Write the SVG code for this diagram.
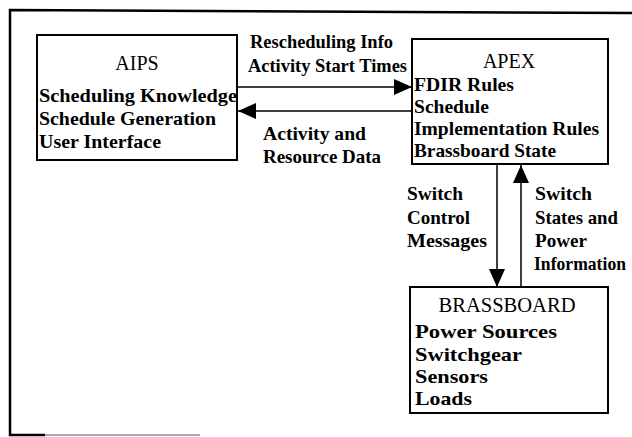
<svg xmlns="http://www.w3.org/2000/svg" width="632" height="437" viewBox="0 0 632 437">
<style>
.box{fill:#fff;stroke:#000;stroke-width:2}
.frame{fill:none;stroke:#000;stroke-width:2.5}
.title{font-family:"Liberation Serif","Times New Roman",serif;font-size:20px;fill:#000;text-anchor:middle}
.t{font-family:"Liberation Serif","Times New Roman",serif;font-size:19px;font-weight:bold;fill:#000}
.conn{stroke:#000;stroke-width:1.5;fill:none}
</style>
<defs>
<marker id="ah" markerUnits="userSpaceOnUse" markerWidth="20" markerHeight="18" refX="18" refY="8" orient="auto">
<path d="M0,0 L18,8 L0,16 Z" fill="#000"/>
</marker>
</defs>
<rect width="632" height="437" fill="#fff"/>
<g id="frame">
<path class="frame" d="M632,13 L10,10 L10,435 L45,435"/>
<path d="M45,435 L200,435" stroke="#000" stroke-width="1.5" stroke-opacity="0.45"/>
</g>
<g id="connectors">
<line class="conn" x1="237" y1="87" x2="412" y2="87" marker-end="url(#ah)"/>
<line class="conn" x1="412" y1="111" x2="238" y2="111" marker-end="url(#ah)"/>
<line class="conn" x1="497" y1="164" x2="497" y2="287" marker-end="url(#ah)"/>
<line class="conn" x1="521" y1="287" x2="521" y2="165" marker-end="url(#ah)"/>
<text class="t" x="250" y="48" textLength="143" lengthAdjust="spacingAndGlyphs">Rescheduling Info</text>
<text class="t" x="248" y="72" textLength="159" lengthAdjust="spacingAndGlyphs">Activity Start Times</text>
<text class="t" x="263" y="140" textLength="103" lengthAdjust="spacingAndGlyphs">Activity and</text>
<text class="t" x="263" y="163" textLength="118" lengthAdjust="spacingAndGlyphs">Resource Data</text>
<text class="t" x="407" y="200" textLength="56" lengthAdjust="spacingAndGlyphs">Switch</text>
<text class="t" x="407" y="224" textLength="63" lengthAdjust="spacingAndGlyphs">Control</text>
<text class="t" x="407" y="247" textLength="80" lengthAdjust="spacingAndGlyphs">Messages</text>
<text class="t" x="535" y="200" textLength="57" lengthAdjust="spacingAndGlyphs">Switch</text>
<text class="t" x="535" y="224" textLength="83" lengthAdjust="spacingAndGlyphs">States and</text>
<text class="t" x="535" y="247" textLength="52" lengthAdjust="spacingAndGlyphs">Power</text>
<text class="t" x="534" y="270" textLength="92" lengthAdjust="spacingAndGlyphs">Information</text>
</g>
<g id="aips">
<rect class="box" x="37" y="35" width="200" height="125"/>
<text class="title" x="137" y="70">AIPS</text>
<text class="t" x="39" y="102" textLength="198" lengthAdjust="spacingAndGlyphs">Scheduling Knowledge</text>
<text class="t" x="39" y="125" textLength="177" lengthAdjust="spacingAndGlyphs">Schedule Generation</text>
<text class="t" x="39" y="148" textLength="122" lengthAdjust="spacingAndGlyphs">User Interface</text>
</g>
<g id="apex">
<rect class="box" x="412" y="39" width="196" height="125"/>
<text class="title" x="509" y="68">APEX</text>
<text class="t" x="414" y="91" textLength="100" lengthAdjust="spacingAndGlyphs">FDIR Rules</text>
<text class="t" x="414" y="113" textLength="75" lengthAdjust="spacingAndGlyphs">Schedule</text>
<text class="t" x="414" y="135" textLength="185" lengthAdjust="spacingAndGlyphs">Implementation Rules</text>
<text class="t" x="414" y="157" textLength="142" lengthAdjust="spacingAndGlyphs">Brassboard State</text>
</g>
<g id="brassboard">
<rect class="box" x="410" y="287" width="198" height="126"/>
<text class="title" x="507" y="312" textLength="137" lengthAdjust="spacingAndGlyphs">BRASSBOARD</text>
<text class="t" x="415" y="338" textLength="142" lengthAdjust="spacingAndGlyphs">Power Sources</text>
<text class="t" x="415" y="361" textLength="107" lengthAdjust="spacingAndGlyphs">Switchgear</text>
<text class="t" x="415" y="383" textLength="73" lengthAdjust="spacingAndGlyphs">Sensors</text>
<text class="t" x="415" y="405" textLength="57" lengthAdjust="spacingAndGlyphs">Loads</text>
</g>
</svg>
